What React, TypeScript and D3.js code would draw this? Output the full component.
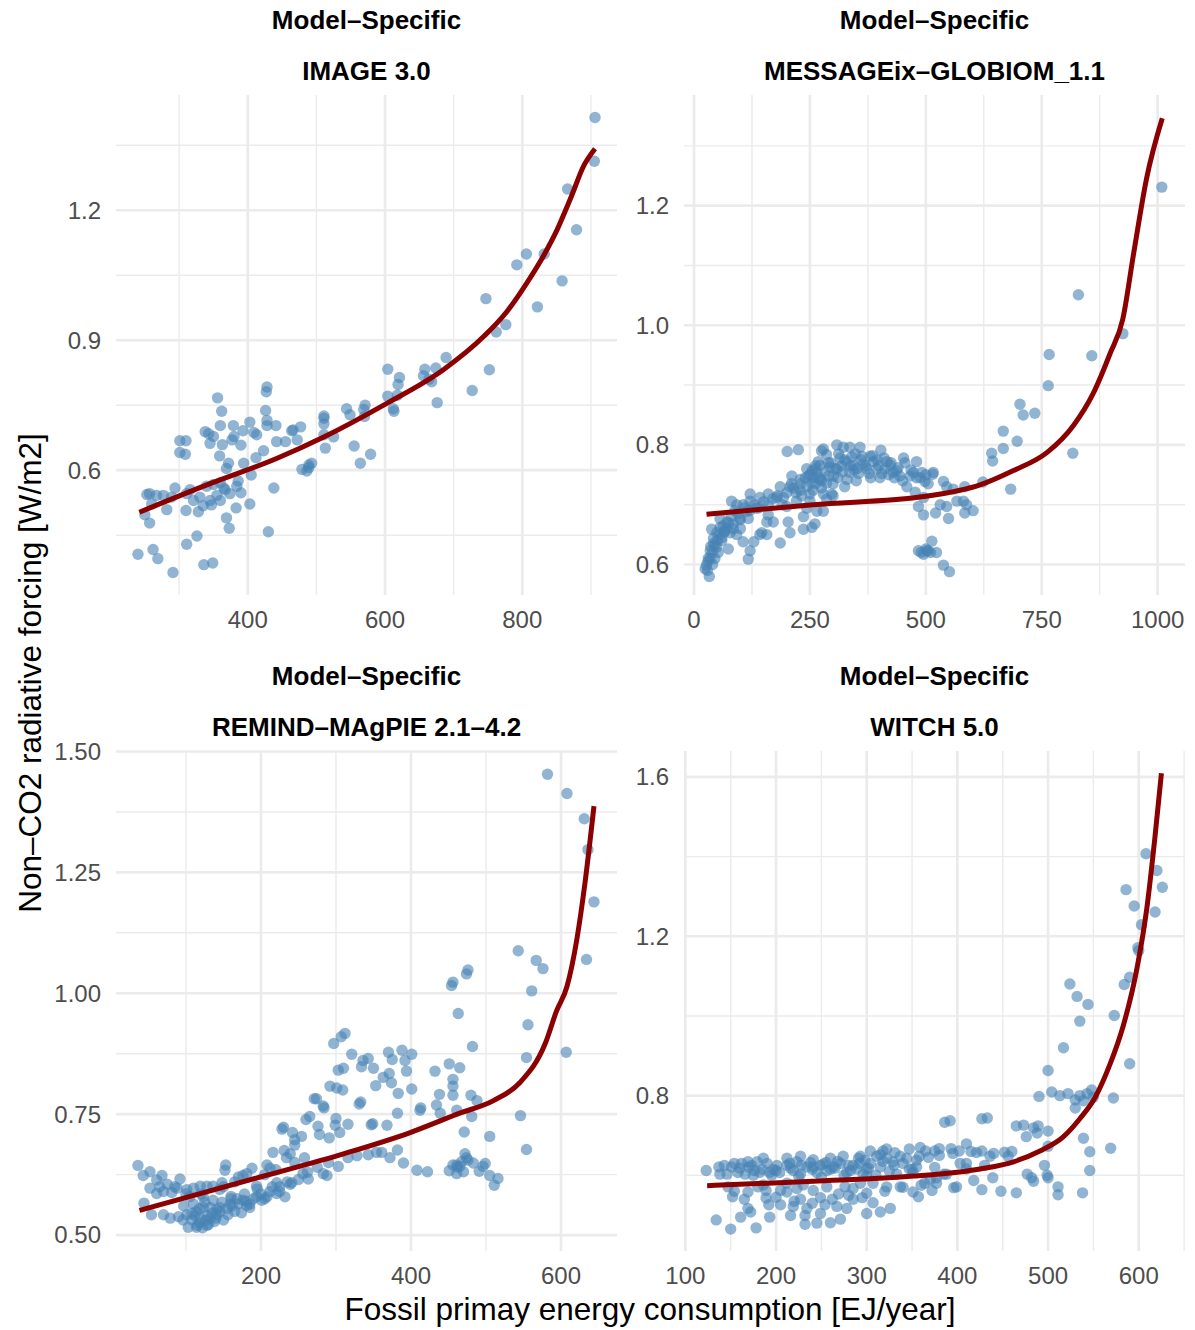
import React from "react";
import * as d3 from "d3";

const FONT = "'Liberation Sans', Arial, Helvetica, sans-serif";
const TITLE = "Model–Specific";
const MODELS = ["IMAGE 3.0", "MESSAGEix–GLOBIOM_1.1", "REMIND–MAgPIE 2.1–4.2", "WITCH 5.0"];
const X_LABEL = "Fossil primay energy consumption [EJ/year]";
const Y_LABEL = "Non–CO2 radiative forcing [W/m2]";

// scatter points, [fossil PE, forcing]
const imagePts = [
  [906,1.414],[905,1.313],[866,1.249],[879,1.155],[858,1.037],[822,0.977],[832,1.099],[806,1.099],[792,1.074],[747,0.996],
  [776,0.936],[762,0.919],[752,0.832],[727,0.784],[689,0.86],[674,0.836],[676,0.756],[658,0.833],[656,0.818],[668,0.804],
  [621,0.814],[619,0.798],[618,0.773],[604,0.833],[604,0.771],[613,0.736],[571,0.75],[569,0.74],[570,0.724],[549,0.728],
  [544,0.742],[555,0.656],[564,0.616],[579,0.637],[511,0.72],[511,0.707],[513,0.651],[525,0.677],[511,0.682],[489,0.612],
  [486,0.598],[479,0.602],[493,0.616],[464,0.691],[477,0.70],[466,0.693],[472,0.67],[455,0.666],[442,0.666],[441,0.703],
  [428,0.703],[426,0.738],[428,0.792],[427,0.781],[428,0.715],[423,0.645],[438,0.559],[430,0.458],[412,0.629],[403,0.711],
  [413,0.682],[409,0.687],[393,0.691],[394,0.616],[405,0.589],[403,0.522],[390,0.658],[379,0.703],[380,0.678],[377,0.67],
  [360,0.703],[362,0.736],[356,0.767],[338,0.689],[345,0.662],[343,0.684],[350,0.678],[363,0.659],[359,0.633],[372,0.616],
  [369,0.604],[301,0.668],[310,0.668],[301,0.641],[309,0.637],[384,0.563],[390,0.548],[374,0.546],[365,0.559],[355,0.542],
  [360,0.53],[345,0.53],[347,0.52],[335,0.518],[328,0.504],[330,0.538],[321,0.53],[316,0.555],[311,0.546],[310,0.507],
  [340,0.563],[350,0.567],[294,0.559],[289,0.538],[282,0.509],[277,0.542],[267,0.542],[257,0.546],[253,0.544],[260,0.522],
  [250,0.497],[257,0.478],[369,0.49],[373,0.466],[383,0.513],[326,0.448],[311,0.429],[240,0.406],[262,0.417],[269,0.396],
  [291,0.364],[336,0.382],[349,0.386],[360,0.571],[367,0.555],[386,0.575],[489,0.606],[511,0.725],[612,0.742],[664,0.81],
];

const messagePts = [
  [1009,1.231],[829,1.051],[925,0.986],[858,0.949],[766,0.951],[764,0.899],[703,0.868],[710,0.85],[735,0.853],[667,0.823],
  [697,0.806],[642,0.786],[644,0.773],[667,0.794],[817,0.786],[683,0.726],[623,0.738],[602,0.69],[584,0.73],[584,0.686],
  [581,0.706],[549,0.677],[545,0.697],[559,0.726],[538,0.739],[516,0.754],[515,0.751],[521,0.686],[495,0.683],[484,0.697],
  [498,0.739],[480,0.772],[513,0.639],[502,0.623],[484,0.623],[495,0.617],[505,0.623],[523,0.62],[538,0.599],[551,0.588],
  [466,0.748],[452,0.778],[459,0.73],[437,0.757],[423,0.766],[403,0.791],[416,0.772],[394,0.76],[401,0.745],[380,0.781],
  [381,0.745],[362,0.781],[351,0.76],[336,0.796],[329,0.772],[308,0.8],[322,0.796],[308,0.76],[293,0.763],[279,0.793],
  [275,0.79],[286,0.736],[272,0.742],[261,0.76],[257,0.724],[247,0.748],[250,0.706],[265,0.689],[279,0.689],[261,0.668],
  [254,0.662],[236,0.68],[236,0.659],[225,0.792],[201,0.789],[211,0.748],[207,0.73],[186,0.73],[178,0.712],[193,0.712],
  [200,0.697],[203,0.671],[207,0.653],[186,0.636],[160,0.683],[157,0.65],[160,0.718],[142,0.712],[121,0.718],[135,0.694],
  [121,0.706],[114,0.689],[106,0.7],[92,0.7],[81,0.706],[99,0.677],[117,0.677],[92,0.65],[106,0.638],[78,0.653],
  [63,0.665],[56,0.677],[49,0.653],[42,0.644],[42,0.635],[35,0.623],[31,0.611],[27,0.599],[29,0.59],[24,0.593],
  [49,0.629],[74,0.626],[129,0.638],[121,0.623],[117,0.609],[142,0.65],[146,0.653],[56,0.662],[71,0.671],[38,0.659],
  [157,0.671],[171,0.671],[221,0.706],[229,0.724],[243,0.694],[286,0.709],[297,0.718],[344,0.766],[372,0.76],[430,0.754],
  [444,0.748],[473,0.754],[491,0.754],[488,0.745],[477,0.721],[495,0.712],[531,0.7],[545,0.73],[567,0.706],[588,0.7],
  [265,0.754],[243,0.76],[229,0.742],[315,0.778],[286,0.784],[257,0.745],[272,0.766],[254,0.736],[336,0.754],[358,0.796],
  [387,0.772],[412,0.76],[301,0.748],[243,0.73],[279,0.718],[268,0.772],[255,0.757],[290,0.77],[318,0.765],[340,0.78],
  [365,0.768],[395,0.775],[420,0.75],[232,0.715],[215,0.728],[250,0.718],[275,0.728],[300,0.735],[330,0.742],[355,0.752],
  [60,0.64],[66,0.655],[85,0.668],[100,0.66],[45,0.61],[36,0.63],[40,0.6],[33,0.58],[52,0.62],[88,0.69],
  [250,0.75],[262,0.765],[270,0.745],[282,0.755],[295,0.77],[305,0.76],[312,0.785],[325,0.775],[338,0.765],[348,0.785],
  [360,0.775],[370,0.765],[385,0.782],[398,0.765],[410,0.778],[425,0.77],[440,0.762],[455,0.77],[468,0.758],[262,0.735],
  [275,0.74],[290,0.748],[310,0.745],[320,0.755],[345,0.758],[378,0.752],[405,0.752],[432,0.745],[450,0.74],[240,0.745],
  [230,0.735],[220,0.72],[200,0.72],[190,0.7],[170,0.71],[150,0.705],[130,0.7],[110,0.695],[95,0.685],[80,0.68],
  [70,0.66],[60,0.645],[50,0.64],[40,0.62],[30,0.605],[35,0.61],[45,0.632],[55,0.65],[65,0.655],[75,0.67],
  [85,0.66],[100,0.675],[120,0.69],[140,0.695],[160,0.7],[180,0.715],[210,0.735],[300,0.715],[325,0.73],[350,0.74],
  [480,0.745],[500,0.75],[505,0.735],[490,0.62],[500,0.626],[510,0.62],
];

const remindPts = [
  [582,1.453],[608,1.413],[631,1.361],[636,1.297],[644,1.189],[634,1.07],[543,1.088],[567,1.068],[576,1.051],[561,1.005],
  [556,0.935],[607,0.878],[554,0.867],[546,0.747],[554,0.677],[476,1.048],[474,1.04],[456,1.023],[454,1.016],[463,0.958],
  [482,0.89],[451,0.854],[465,0.846],[456,0.822],[456,0.808],[456,0.789],[432,0.839],[438,0.791],[434,0.769],[439,0.752],
  [461,0.758],[480,0.789],[488,0.778],[481,0.745],[471,0.713],[505,0.704],[401,0.802],[413,0.763],[412,0.758],[382,0.752],
  [383,0.793],[392,0.861],[401,0.874],[388,0.882],[394,0.839],[370,0.878],[375,0.863],[371,0.834],[374,0.815],[363,0.826],
  [353,0.809],[350,0.845],[336,0.861],[343,0.865],[334,0.848],[321,0.874],[312,0.917],[307,0.91],[297,0.896],[303,0.841],
  [310,0.845],[292,0.808],[301,0.804],[309,0.8],[274,0.782],[271,0.782],[283,0.767],[284,0.763],[333,0.775],[331,0.771],
  [265,0.745],[260,0.739],[276,0.725],[278,0.708],[300,0.741],[299,0.727],[305,0.712],[316,0.729],[291,0.701],[347,0.728],
  [349,0.73],[368,0.727],[382,0.676],[390,0.649],[408,0.634],[422,0.631],[451,0.633],[461,0.645],[470,0.631],[474,0.66],
  [472,0.668],[465,0.642],[483,0.649],[496,0.642],[499,0.648],[505,0.623],[516,0.617],[511,0.603],[491,0.632],[456,0.645],
  [461,0.627],[372,0.66],[361,0.671],[354,0.671],[343,0.666],[328,0.664],[316,0.66],[303,0.642],[288,0.623],[283,0.627],
  [263,0.616],[256,0.627],[254,0.704],[245,0.697],[242,0.712],[230,0.723],[228,0.719],[245,0.686],[239,0.668],[234,0.66],
  [231,0.675],[216,0.671],[208,0.645],[212,0.638],[241,0.608],[239,0.605],[232,0.579],[225,0.59],[205,0.575],[201,0.572],
  [221,0.608],[194,0.601],[188,0.638],[181,0.627],[176,0.623],[170,0.62],[185,0.564],[185,0.557],[174,0.546],[168,0.575],
  [159,0.564],[153,0.645],[152,0.634],[148,0.608],[145,0.594],[136,0.601],[128,0.601],[119,0.601],[110,0.597],[101,0.594],
  [92,0.616],[88,0.597],[81,0.588],[70,0.59],[68,0.623],[61,0.614],[52,0.631],[43,0.623],[36,0.644],[52,0.597],
  [61,0.586],[54,0.542],[44,0.566],[70,0.542],[79,0.535],[90,0.538],[96,0.531],[103,0.516],[114,0.516],[128,0.52],
  [108,0.531],[119,0.535],[132,0.535],[141,0.542],[150,0.531],[114,0.549],[123,0.557],[132,0.557],[141,0.553],[110,0.564],
  [101,0.542],[156,0.542],[165,0.549],[105,0.579],[123,0.579],[136,0.572],[145,0.557],[181,0.561],[176,0.572],[194,0.579],
  [208,0.579],[221,0.586],[118,0.525],[126,0.53],[135,0.545],[112,0.54],[125,0.568],[148,0.568],[160,0.58],[97,0.56],
  [115,0.52],[122,0.515],[130,0.522],[138,0.528],[128,0.54],[140,0.535],[108,0.545],[118,0.555],[145,0.548],[155,0.555],
  [162,0.56],[170,0.565],[180,0.57],[190,0.575],[200,0.585],[212,0.59],[225,0.6],[235,0.61],[250,0.615],[262,0.63],
  [275,0.64],[290,0.65],[215,0.6],[195,0.595],[178,0.585],[160,0.575],[120,0.585],[100,0.585],[85,0.6],[75,0.605],
  [65,0.6],[150,0.6],[165,0.61],[205,0.625],[220,0.635],[245,0.65],[258,0.66],[462,0.64],[468,0.652],[476,0.655],
];

const witchPts = [
  [608,1.407],[620,1.365],[626,1.323],[586,1.317],[595,1.276],[618,1.261],[603,1.229],[599,1.171],[600,1.164],[590,1.097],
  [584,1.079],[573,1.001],[590,0.88],[572,0.794],[569,0.668],[524,1.08],[532,1.049],[544,1.029],[535,0.987],[517,0.92],
  [500,0.863],[490,0.798],[504,0.809],[513,0.8],[522,0.805],[530,0.789],[530,0.769],[539,0.787],[543,0.805],[548,0.814],
  [550,0.796],[539,0.693],[546,0.659],[546,0.612],[538,0.556],[500,0.673],[496,0.625],[500,0.594],[499,0.6],[511,0.571],
  [511,0.551],[500,0.711],[477,0.603],[484,0.585],[482,0.594],[465,0.556],[465,0.724],[473,0.726],[476,0.697],[484,0.719],
  [489,0.724],[488,0.706],[448,0.56],[439,0.594],[452,0.658],[436,0.648],[430,0.625],[427,0.564],[418,0.587],[427,0.742],
  [433,0.744],[421,0.657],[427,0.661],[410,0.63],[386,0.733],[392,0.737],[402,0.661],[393,0.667],[380,0.667],[399,0.571],
  [396,0.569],[375,0.661],[365,0.661],[358,0.648],[347,0.666],[355,0.621],[347,0.616],[372,0.562],[385,0.603],[377,0.58],
  [364,0.58],[357,0.546],[351,0.558],[337,0.648],[331,0.657],[329,0.634],[318,0.661],[322,0.643],[311,0.648],[304,0.661],
  [293,0.648],[289,0.616],[300,0.616],[315,0.621],[326,0.517],[315,0.508],[307,0.531],[300,0.504],[295,0.544],[285,0.54],
  [271,0.49],[260,0.481],[249,0.504],[245,0.48],[254,0.526],[267,0.522],[278,0.517],[276,0.571],[285,0.567],[269,0.553],
  [234,0.517],[232,0.499],[232,0.477],[219,0.522],[216,0.499],[205,0.526],[193,0.495],[192,0.526],[189,0.543],[178,0.468],
  [172,0.508],[169,0.517],[161,0.495],[150,0.465],[134,0.488],[165,0.54],[152,0.546],[147,0.571],[154,0.56],[169,0.558],
  [180,0.571],[189,0.562],[205,0.562],[212,0.558],[223,0.567],[241,0.562],[256,0.571],[249,0.544],[227,0.54],[123,0.612],
  [137,0.621],[138,0.603],[146,0.603],[151,0.621],[158,0.607],[162,0.63],[166,0.603],[173,0.625],[179,0.634],[182,0.607],
  [190,0.63],[193,0.607],[201,0.625],[204,0.607],[212,0.643],[212,0.625],[219,0.612],[223,0.634],[227,0.603],[234,0.621],
  [241,0.639],[245,0.607],[249,0.625],[256,0.612],[260,0.643],[263,0.621],[271,0.63],[274,0.648],[278,0.607],[285,0.625],
  [291,0.643],[296,0.603],[304,0.63],[315,0.652],[322,0.666],[333,0.603],[344,0.643],[351,0.607],[359,0.67],[370,0.589],
  [337,0.571],[322,0.571],[307,0.58],[293,0.58],[230,0.576],[212,0.58],[186,0.576],[227,0.648],[186,0.643],[169,0.634],
  [154,0.63],[143,0.625],[241,0.621],[403,0.63],[410,0.616],[456,0.648],[388,0.603],[377,0.594],[410,0.679],[260,0.615],
  [268,0.635],[282,0.612],[252,0.628],[238,0.632],[216,0.618],[197,0.615],[176,0.612],[160,0.618],[298,0.638],[310,0.6],
  [170,0.62],[185,0.615],[200,0.612],[215,0.63],[228,0.625],[240,0.615],[255,0.632],[265,0.618],[280,0.625],[292,0.63],
  [302,0.618],[318,0.635],[330,0.625],[340,0.63],[355,0.638],[368,0.645],[380,0.65],[395,0.655],[415,0.66],[440,0.655],
  [460,0.66],[175,0.6],[195,0.6],[225,0.598],[250,0.595],[275,0.6],[300,0.598],[325,0.61],[350,0.615],[375,0.62],
  [200,0.545],[220,0.535],[240,0.53],[262,0.54],[280,0.55],[300,0.555],[320,0.56],[340,0.57],[360,0.575],[535,0.8],
];

// fitted curves
const imageFit = [[242,0.503],[345,0.569],[442,0.627],[510,0.676],[600,0.752],[686,0.833],[744,0.909],[778,0.967],
  [807,1.033],[832,1.098],[851,1.156],[871,1.23],[890,1.304],[906,1.342]];
const messageFit = [[27,0.684],[257,0.7],[500,0.714],[617,0.733],[689,0.757],[761,0.787],[818,0.832],[861,0.886],
  [897,0.952],[925,1.011],[948,1.119],[976,1.245],[1010,1.346]];
const remindFit = [[38,0.551],[199,0.62],[310,0.668],[399,0.712],[465,0.752],[510,0.778],[545,0.815],[579,0.896],
  [594,0.963],[608,1.014],[621,1.11],[632,1.228],[644,1.387]];
const witchFit = [[124,0.574],[241,0.585],[352,0.598],[425,0.616],[462,0.634],[491,0.661],[517,0.697],[535,0.742],
  [552,0.796],[568,0.877],[583,0.976],[598,1.119],[609,1.272],[618,1.452],[625,1.609]];

// axis breaks per panel
const imageXMajor = [400, 600, 800], imageXMinor = [300, 500, 700, 900];
const imageYMajor = [0.6, 0.9, 1.2], imageYMinor = [0.45, 0.75, 1.05, 1.35];
const messageXMajor = [0, 250, 500, 750, 1000], messageXMinor = [125, 375, 625, 875];
const messageYMajor = [0.6, 0.8, 1.0, 1.2], messageYMinor = [0.7, 0.9, 1.1, 1.3];
const remindXMajor = [200, 400, 600], remindXMinor = [100, 300, 500];
const remindYMajor = [0.5, 0.75, 1.0, 1.25, 1.5], remindYMinor = [0.625, 0.875, 1.125, 1.375];
const witchXMajor = [100, 200, 300, 400, 500, 600], witchXMinor = [150, 250, 350, 450, 550, 650];
const witchYMajor = [0.8, 1.2, 1.6], witchYMinor = [0.6, 1.0, 1.4];

const W = 501, H = 500;

const panels = [
  { model: MODELS[0], left: 116, top: 95, xDom: [208, 938], yDom: [0.312, 1.466], pts: imagePts, fit: imageFit,
    xMaj: imageXMajor, xMin: imageXMinor, yMaj: imageYMajor, yMin: imageYMinor, yFmt: ".1f" },
  { model: MODELS[1], left: 684, top: 95, xDom: [-21.6, 1059], yDom: [0.549, 1.385], pts: messagePts, fit: messageFit,
    xMaj: messageXMajor, xMin: messageXMinor, yMaj: messageYMajor, yMin: messageYMinor, yFmt: ".1f" },
  { model: MODELS[2], left: 116, top: 751, xDom: [6.7, 674.7], yDom: [0.467, 1.501], pts: remindPts, fit: remindFit,
    xMaj: remindXMajor, xMin: remindXMinor, yMaj: remindYMajor, yMin: remindYMinor, yFmt: ".2f" },
  { model: MODELS[3], left: 684, top: 751, xDom: [98.5, 651], yDom: [0.41, 1.665], pts: witchPts, fit: witchFit,
    xMaj: witchXMajor, xMin: witchXMinor, yMaj: witchYMajor, yMin: witchYMinor, yFmt: ".1f" },
];

function Panel({ p }: { p: any }) {
  const x = d3.scaleLinear().domain(p.xDom).range([p.left, p.left + W]);
  const y = d3.scaleLinear().domain(p.yDom).range([p.top + H, p.top]);
  const line = d3.line<number[]>().x(d => x(d[0])).y(d => y(d[1])).curve(d3.curveMonotoneX);
  const fmt = d3.format(p.yFmt);
  const cx = p.left + W / 2;
  return (
    <g>
      {p.yMin.map((v: number) => (
        <line key={"ym" + v} x1={p.left} x2={p.left + W} y1={y(v)} y2={y(v)} stroke="#EBEBEB" strokeWidth={1.4} />
      ))}
      {p.xMin.map((v: number) => (
        <line key={"xm" + v} x1={x(v)} x2={x(v)} y1={p.top} y2={p.top + H} stroke="#EBEBEB" strokeWidth={1.4} />
      ))}
      {p.yMaj.map((v: number) => (
        <line key={"yM" + v} x1={p.left} x2={p.left + W} y1={y(v)} y2={y(v)} stroke="#EBEBEB" strokeWidth={2.7} />
      ))}
      {p.xMaj.map((v: number) => (
        <line key={"xM" + v} x1={x(v)} x2={x(v)} y1={p.top} y2={p.top + H} stroke="#EBEBEB" strokeWidth={2.7} />
      ))}
      {p.pts.map((d: number[], i: number) => (
        <circle key={i} cx={x(d[0])} cy={y(d[1])} r={5.7} fill="steelblue" fillOpacity={0.6} />
      ))}
      <path d={line(p.fit) || ""} fill="none" stroke="#8B0000" strokeWidth={5} />
      {p.xMaj.map((v: number) => (
        <text key={"xt" + v} x={x(v)} y={p.top + H + 33} textAnchor="middle" fontSize={24} fill="#4D4D4D">{v}</text>
      ))}
      {p.yMaj.map((v: number) => (
        <text key={"yt" + v} x={p.left - 15} y={y(v)} dy="0.35em" textAnchor="end" fontSize={24} fill="#4D4D4D">{fmt(v)}</text>
      ))}
      <text x={cx} y={p.top - 66} textAnchor="middle" fontSize={26} fontWeight="bold" fill="#000">{TITLE}</text>
      <text x={cx} y={p.top - 15} textAnchor="middle" fontSize={26} fontWeight="bold" fill="#000">{p.model}</text>
    </g>
  );
}

export default function App() {
  return (
    <svg width={1195} height={1330} style={{ position: "absolute", left: 0, top: 0, background: "#fff" }} fontFamily={FONT}>
      <rect width={1195} height={1330} fill="#fff" />
      {panels.map(p => <Panel key={p.model} p={p} />)}
      <text x={650} y={1320} textAnchor="middle" fontSize={31.5} fill="#000">{X_LABEL}</text>
      <text transform="translate(41,673) rotate(-90)" textAnchor="middle" fontSize={31.5} fill="#000">{Y_LABEL}</text>
    </svg>
  );
}
